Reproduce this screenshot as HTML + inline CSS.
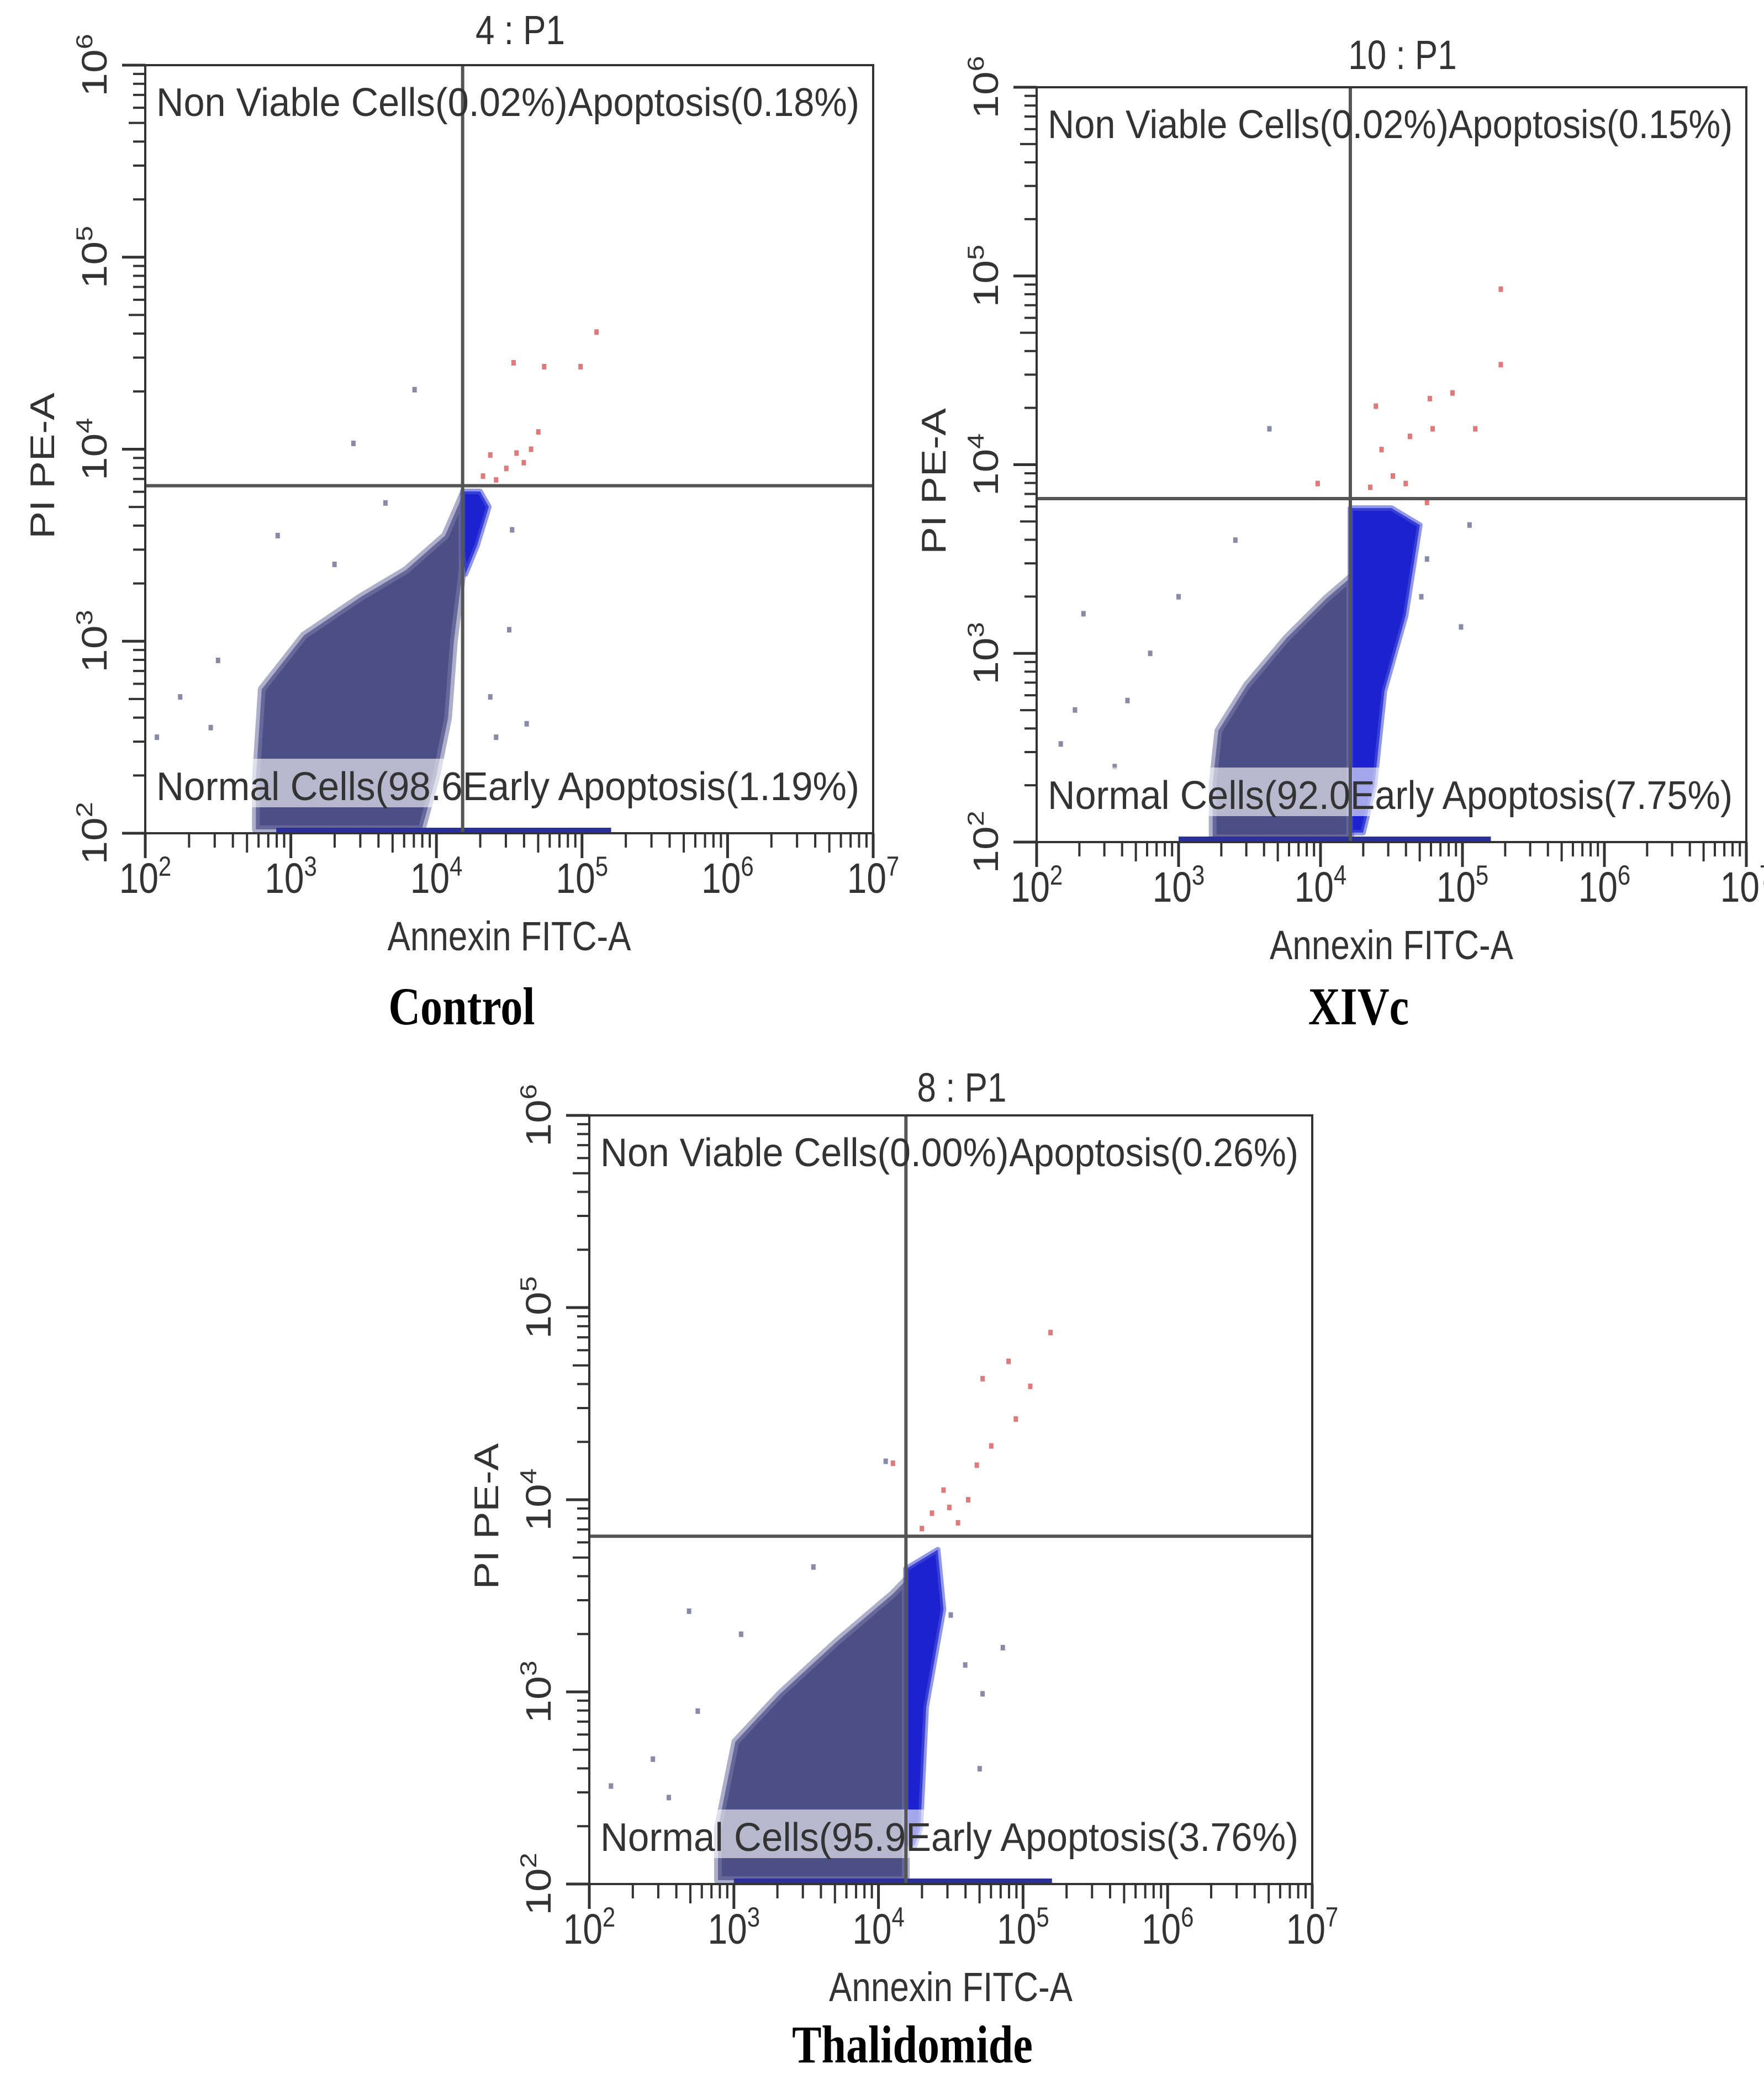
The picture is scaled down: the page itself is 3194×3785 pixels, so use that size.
<!DOCTYPE html>
<html><head><meta charset="utf-8">
<style>
html,body{margin:0;padding:0;background:#fff;}
svg{display:block;}
</style></head>
<body>
<svg id="fig" xmlns="http://www.w3.org/2000/svg" width="3194" height="3785" viewBox="0 0 3194 3785"></svg>
<script>
// ---- Data (log10 units) ----
const xDecades = [2,3,4,5,6,7];
const yDecades = [2,3,4,5,6];
const panelTitles = ["4 : P1","10 : P1","8 : P1"];
const panelCaptions = ["Control","XIVc","Thalidomide"];
const q1Labels = ["Non Viable Cells(0.02%)","Non Viable Cells(0.02%)","Non Viable Cells(0.00%)"];
const q2Labels = ["Apoptosis(0.18%)","Apoptosis(0.15%)","Apoptosis(0.26%)"];
const q3Labels = ["Normal Cells(98.6","Normal Cells(92.0","Normal Cells(95.9"];
const q4Labels = ["Early Apoptosis(1.19%)","Early Apoptosis(7.75%)","Early Apoptosis(3.76%)"];
const gateX = [4.18,4.21,4.19];
const gateY = [3.81,3.82,3.81];

const blob1 = [[2.76,2.02],[2.76,2.28],[2.8,2.75],[3.09,3.03],[3.48,3.23],[3.79,3.37],[4.06,3.55],[4.18,3.76],[4.18,3.37],[4.12,3.0],[4.08,2.6],[4.0,2.3],[3.9,2.02]];
const blob2 = [[3.24,2.02],[3.24,2.31],[3.28,2.59],[3.48,2.83],[3.76,3.08],[4.04,3.29],[4.21,3.40],[4.21,2.02]];
const blob3 = [[2.89,2.02],[2.89,2.29],[3.01,2.74],[3.32,2.99],[3.71,3.26],[4.10,3.51],[4.19,3.58],[4.19,2.02]];
const blue1 = [[4.18,3.45],[4.18,3.78],[4.3,3.78],[4.36,3.7],[4.28,3.5],[4.2,3.35]];
const blue2 = [[4.21,2.05],[4.21,3.77],[4.5,3.77],[4.7,3.68],[4.6,3.2],[4.45,2.8],[4.38,2.3],[4.3,2.05]];
const blue3 = [[4.19,2.2],[4.19,3.64],[4.41,3.74],[4.45,3.43],[4.33,2.92],[4.29,2.29],[4.25,2.2]];
const grey1 = [[3.85,4.31],[3.43,4.03],[2.91,3.55],[2.24,2.71],[2.08,2.5],[4.52,3.58],[4.50,3.06],[4.62,2.57],[4.41,2.5],[4.37,2.71],[3.65,3.72],[3.3,3.4],[2.5,2.9],[2.45,2.55]];
const red1 = [[5.10,4.61],[4.53,4.45],[4.74,4.43],[4.99,4.43],[4.70,4.09],[4.60,3.93],[4.48,3.90],[4.41,3.84],[4.37,3.97],[4.32,3.86],[4.55,3.98],[4.65,4.0]];
const grey2 = [[3.64,4.19],[2.33,3.21],[2.27,2.70],[2.17,2.52],[2.64,2.75],[5.05,3.68],[4.99,3.14],[4.71,3.30],[3.4,3.6],[3.0,3.3],[2.8,3.0],[2.55,2.4],[4.75,3.5]];
const red2 = [[5.27,4.93],[5.27,4.53],[4.93,4.38],[4.77,4.35],[4.39,4.31],[5.09,4.19],[4.79,4.19],[4.63,4.15],[4.43,4.08],[4.51,3.94],[4.75,3.80],[4.35,3.88],[4.6,3.9],[3.98,3.9]];
const grey3 = [[2.69,3.42],[2.15,2.51],[2.44,2.65],[4.86,3.23],[4.72,2.99],[4.60,3.14],[3.55,3.65],[3.05,3.3],[2.75,2.9],[2.55,2.45],[4.5,3.4],[4.7,2.6],[4.05,4.2]];
const red3 = [[5.19,4.87],[4.90,4.72],[4.72,4.63],[5.05,4.59],[4.95,4.42],[4.78,4.28],[4.68,4.18],[4.10,4.19],[4.49,3.96],[4.37,3.93],[4.3,3.85],[4.55,3.88],[4.45,4.05],[4.62,4.0]];
const axisBand = [[2.9,5.2],[3.0,5.2],[3.0,5.2]];

// ---- layout ----
const layouts = [
  {L:263,R:1581,T:118,B:1509,titleY:80,capX:836,capY:1855,blob:blob1,blue:blue1,grey:grey1,red:red1},
  {L:1877,R:3162,T:158,B:1525,titleY:125,capX:2460,capY:1855,blob:blob2,blue:blue2,grey:grey2,red:red2},
  {L:1067,R:2376,T:2020,B:3412,titleY:1995,capX:1652,capY:3735,blob:blob3,blue:blue3,grey:grey3,red:red3}
];
const NS="http://www.w3.org/2000/svg";
const svg=document.getElementById('fig');
function mk(tag,attrs,parent){const e=document.createElementNS(NS,tag);for(const k in attrs)e.setAttribute(k,attrs[k]);(parent||svg).appendChild(e);return e;}
const SY=1.2;
function txt(parent,x,y,attrs,rot){
  const tr='translate('+x+' '+y+')'+(rot?' rotate(-90)':'')+(rot?' scale('+SY+' 1)':' scale(1 '+SY+')');
  attrs.transform=tr; attrs.x=0; attrs.y=0;
  return mk('text',attrs,parent);
}

layouts.forEach((P,i)=>{
  const g=mk('g',{});
  
  
  const sx=v=>P.L+(v-2)/5*(P.R-P.L);
  const sy=v=>P.B-(v-2)/4*(P.B-P.T);
  const pts=a=>a.map(p=>sx(p[0]).toFixed(1)+','+sy(p[1]).toFixed(1)).join(' ');
  const bl=mk('polygon',{points:pts(P.blob),fill:'#4b4f86',stroke:'#7679a6','stroke-width':14,'stroke-opacity':0.6,'stroke-linejoin':'round'},g);
  
  
  const bb=mk('polygon',{points:pts(P.blue),fill:'#1c22d0',stroke:'#4a52d8','stroke-width':10,'stroke-opacity':0.6,'stroke-linejoin':'round'},g);
  
  
  const band=mk('line',{x1:sx(axisBand[i][0]),x2:sx(axisBand[i][1]),y1:P.B-5,y2:P.B-5,stroke:'#2a2f9a','stroke-width':10},g);
  
  
  P.grey.forEach(p=>{const c=mk('rect',{x:sx(p[0])-4,y:sy(p[1])-5,width:8,height:10,fill:'#8a8aa8'},g);
    
    });
  P.red.forEach(p=>{const c=mk('rect',{x:sx(p[0])-4,y:sy(p[1])-5,width:8,height:10,fill:'#e07a7a'},g);
    
    });
  mk('rect',{x:P.L+20,y:P.B-135,width:P.R-P.L-40,height:88,fill:'#fff',opacity:0.6},g);
  const vx=sx(gateX[i]), hy=sy(gateY[i]);
  const gv=mk('line',{x1:vx,x2:vx,y1:P.T,y2:P.B,stroke:'#555','stroke-width':6},g);
  
  
  const gh=mk('line',{x1:P.L,x2:P.R,y1:hy,y2:hy,stroke:'#555','stroke-width':6},g);
  
  
  const fr=mk('rect',{x:P.L,y:P.T,width:P.R-P.L,height:P.B-P.T,fill:'none',stroke:'#333','stroke-width':4},g);
  
  
  const font='Liberation Sans, sans-serif';
  for(let d=0;d<xDecades.length;d++){
    const v=xDecades[d];
    mk('line',{x1:sx(v),x2:sx(v),y1:P.B,y2:P.B+45,stroke:'#333','stroke-width':5},g);
    if(d<xDecades.length-1) for(let m=2;m<=9;m++){const xv=sx(v+Math.log10(m));mk('line',{x1:xv,x2:xv,y1:P.B,y2:P.B+(m==5?35:26),stroke:'#333','stroke-width':4},g);}
    const t=txt(g,sx(v),P.B+108,{'font-size':64,'text-anchor':'middle','font-family':font,fill:'#333'});
    
    
    t.innerHTML='10<tspan dy="-26" font-size="42">'+v+'</tspan>';
  }
  for(let d=0;d<yDecades.length;d++){
    const v=yDecades[d];
    mk('line',{x1:P.L-42,x2:P.L,y1:sy(v),y2:sy(v),stroke:'#333','stroke-width':5},g);
    if(d<yDecades.length-1) for(let m=2;m<=9;m++){const yv=sy(v+Math.log10(m));mk('line',{x1:P.L-(m==5?30:22),x2:P.L,y1:yv,y2:yv,stroke:'#333','stroke-width':4},g);}
    const t=txt(g,P.L-70,sy(v),{'font-size':64,'text-anchor':'middle','font-family':font,fill:'#333'},true);
    
    
    t.innerHTML='10<tspan dy="-26" font-size="42">'+v+'</tspan>';
  }
  const ax=txt(g,(P.L+P.R)/2,P.B+212,{'font-size':62,'text-anchor':'middle','font-family':font,fill:'#333'});
  
  
  ax.textContent='Annexin FITC-A';
  const ay=txt(g,P.L-165,(P.T+P.B)/2+30,{'font-size':62,'text-anchor':'middle','font-family':font,fill:'#333'},true);
  
  
  ay.textContent='PI PE-A';
  const ti=txt(g,(P.L+P.R)/2+20,P.titleY,{'font-size':62,'text-anchor':'middle','font-family':font,fill:'#333'});
  
  
  ti.textContent=panelTitles[i];
  const w=P.R-P.L;
  const l1=txt(g,P.L+20,P.T+92,{'font-size':60,'font-family':font,fill:'#333',textLength:w*0.565,lengthAdjust:'spacingAndGlyphs'});
  
  
  l1.textContent=q1Labels[i];
  const l2=txt(g,P.R-25,P.T+92,{'font-size':60,'font-family':font,fill:'#333','text-anchor':'end',textLength:w*0.40,lengthAdjust:'spacingAndGlyphs'});
  
  
  l2.textContent=q2Labels[i];
  const l3=txt(g,P.L+20,P.B-60,{'font-size':60,'font-family':font,fill:'#333',textLength:vx-P.L-20,lengthAdjust:'spacingAndGlyphs'});
  
  
  l3.textContent=q3Labels[i];
  const l4=txt(g,P.R-25,P.B-60,{'font-size':60,'font-family':font,fill:'#333','text-anchor':'end',textLength:P.R-25-vx,lengthAdjust:'spacingAndGlyphs'});
  
  
  l4.textContent=q4Labels[i];
  const cap=txt(g,P.capX,P.capY,{'font-size':80,'font-weight':'bold','text-anchor':'middle','font-family':'Liberation Serif, serif',fill:'#000'});
  
  
  cap.textContent=panelCaptions[i];
});
</script>
</body></html>
